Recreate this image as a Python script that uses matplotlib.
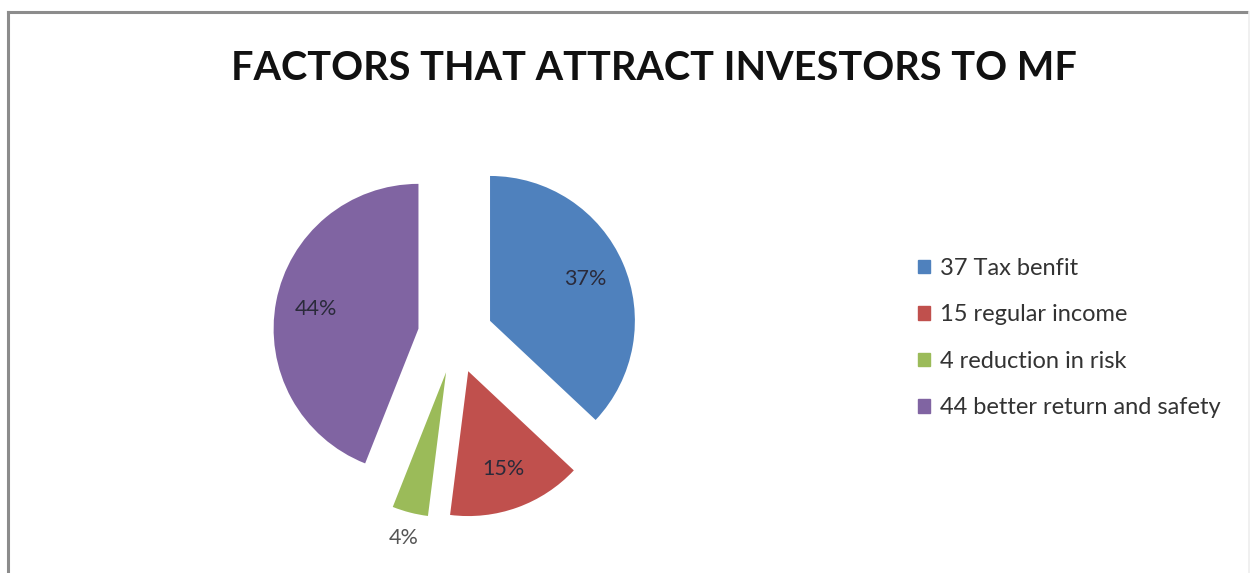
import numpy as np
import matplotlib.pyplot as plt
from matplotlib.lines import Line2D

# Survey results
labels = ["37 Tax benfit", "15 regular income", "4 reduction in risk", "44 better return and safety"]
values = [37, 15, 4, 44]
colors = ["#4F81BD", "#C0504D", "#9BBB59", "#8064A2"]
explode = [0.26, 0.26, 0.26, 0.26]

fig = plt.figure(figsize=(12.53, 5.73), dpi=100)
fig.patch.set_facecolor("white")

# Chart frame (top, left, right edges)
fig.add_artist(Line2D([8 / 1253, 1247 / 1253], [1 - 12 / 573, 1 - 12 / 573], color="#8c8c8c", lw=2.2))
fig.add_artist(Line2D([8 / 1253, 8 / 1253], [1 - 12 / 573, 0], color="#8c8c8c", lw=2.2))
fig.add_artist(Line2D([1249 / 1253, 1249 / 1253], [1 - 12 / 573, 0], color="#eeeeee", lw=1.2))

# Leftover page text above the chart
fig.text(0.504, 1.008, "funds", ha="center", va="center", fontsize=10,
         family="Liberation Serif", weight="bold", color="#222222")

fig.text(0.522, 1 - 68 / 573, "FACTORS THAT ATTRACT INVESTORS TO MF", ha="center", va="center",
         fontsize=28.5, weight="bold", family="Lato", color="#111111")

ax = fig.add_axes([0.177, 0.098, 0.373, 0.632])
wedges, texts, autotexts = ax.pie(values, colors=colors, explode=explode, startangle=90,
                                  counterclock=False, autopct="%d%%", pctdistance=0.72,
                                  textprops=dict(fontsize=15.5, color="#2a2a3a", family="Lato"))
ax.set_aspect("equal")

# small slice label sits outside its wedge
w = wedges[2]
mid = np.deg2rad((w.theta1 + w.theta2) / 2)
cx, cy = w.center
autotexts[2].set_position((cx + 1.18 * np.cos(mid), cy + 1.18 * np.sin(mid)))
autotexts[2].set_color("#555555")

handles = [plt.Rectangle((0, 0), 1, 1, color=c) for c in colors]
fig.legend(handles, labels, loc="center left", bbox_to_anchor=(0.716, 0.41), frameon=False,
           prop=dict(family="Lato", size=17), handlelength=0.5, handleheight=0.5,
           handletextpad=0.4, labelspacing=1.08, labelcolor="#333333")

fig.savefig("out.png", dpi=100, facecolor="white")
